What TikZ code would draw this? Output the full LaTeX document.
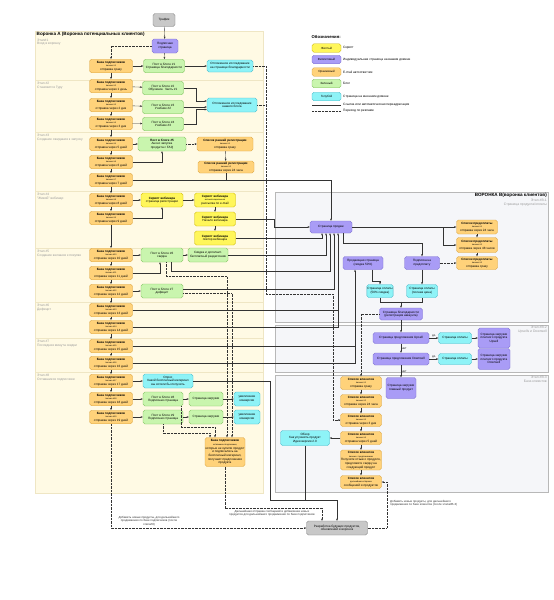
\documentclass[tikz,border=0pt]{standalone}
\usepackage{fontspec}
\setmainfont{Liberation Sans}
\usetikzlibrary{arrows.meta}
\definecolor{orgF}{HTML}{FFD27A}
\definecolor{orgD}{HTML}{D9A441}
\definecolor{purF}{HTML}{A99CF6}
\definecolor{purD}{HTML}{7A6DD0}
\definecolor{grnF}{HTML}{C9F5AE}
\definecolor{grnD}{HTML}{7DBF5A}
\definecolor{cyaF}{HTML}{8EF3F7}
\definecolor{cyaD}{HTML}{45B8C8}
\definecolor{yelF}{HTML}{FFF65A}
\definecolor{yelD}{HTML}{C8B400}
\definecolor{gryF}{HTML}{C8C8C8}
\definecolor{gryD}{HTML}{7F7F7F}
\definecolor{panA}{HTML}{FFFAE4}
\definecolor{panL}{HTML}{EFE6C4}
\definecolor{panB}{HTML}{F5F6F9}
\definecolor{panBD}{HTML}{B8B8B8}
\definecolor{lnC}{HTML}{333333}
\definecolor{stC}{HTML}{9A9A9A}
\newcommand{\fA}{\fontsize{3.1}{3.6}\selectfont}
\newcommand{\fS}{\fontsize{2.1}{2.5}\selectfont}
\newcommand{\bzp}[2]{\textbf{База подписчиков}\\[0.2pt]\fS письмо \##1\\#2}
\newcommand{\spk}[2]{\textbf{Список клиентов}\\[0.2pt]\fS письмо \##1\\#2}
\newcommand{\spp}[2]{\textbf{Список предоплаты}\\[0.2pt]\fS письмо \##1\\#2}
\begin{document}
\begin{tikzpicture}[x=1pt,y=-1pt,
  base/.style={rounded corners=1.8pt, line width=0.35pt, align=center, inner sep=0.4pt, font=\fA, text=black},
  org/.style={base, fill=orgF, draw=orgD, minimum width=43pt, minimum height=13.5pt},
  pur/.style={base, fill=purF, draw=purD},
  grn/.style={base, fill=grnF, draw=grnD, minimum width=41pt, minimum height=13.5pt},
  cya/.style={base, fill=cyaF, draw=cyaD},
  yel/.style={base, fill=yelF, draw=yelD, minimum width=42pt, minimum height=14pt},
  gry/.style={base, fill=gryF, draw=gryD},
  ln/.style={line width=0.35pt, draw=lnC},
  ar/.style={ln, -{Stealth[length=2.2pt,width=1.8pt]}},
  dt/.style={ln, dash pattern=on 0.7pt off 0.7pt},
  ard/.style={dt, -{Stealth[length=2.2pt,width=1.8pt]}},
  stl/.style={anchor=north west, align=left, font=\fontsize{3.3}{3.9}\selectfont, text=stC, inner sep=0pt},
  str/.style={anchor=north east, align=right, font=\fontsize{3.4}{4}\selectfont, text=stC, inner sep=0pt},
  lbl/.style={font=\fontsize{2.4}{2.8}\selectfont, inner sep=0.6pt},
  note/.style={font=\fontsize{2.9}{3.4}\selectfont, align=center, inner sep=0pt, text=black!80},
  lg/.style={anchor=west, font=\fontsize{3.2}{3.8}\selectfont, inner sep=0pt},
  lgb/.style={base, minimum width=29pt, minimum height=8.5pt, font=\fontsize{3}{3.5}\selectfont},
]
\fill[white] (0,0) rectangle (554,600);
\useasboundingbox (0,0) rectangle (554,600);

% ---------- panels ----------
\foreach \a/\b in {31/80,80/132,132/191,191/248,248/302,302/338,338/372,372/493}
  \draw[fill=panA, draw=panL, line width=0.3pt] (35,\a) rectangle (263,\b);
\draw[fill=panB, draw=panBD, line width=0.35pt] (275,192) rectangle (548,322);
\draw[fill=panB, draw=panBD, line width=0.35pt] (275,325) rectangle (548,372);
\draw[fill=panB, draw=panBD, line width=0.35pt] (275,375) rectangle (548,492);

\node[anchor=south west, inner sep=0pt, font=\bfseries\fontsize{4.6}{5.3}\selectfont] (tA) at (36.5,37) {Воронка А (Воронка потенциальных клиентов)};
\node[stl] (s1) at (37,38.5) {Этап\#1\\Вход в воронку};
\node[stl] (s2) at (37,82) {Этап \#2\\Становится Гуру};
\node[stl] (s3) at (37,134) {Этап \#3\\Создание ожидания к запуску};
\node[stl] (s4) at (37,193) {Этап \#4\\"Живой" вебинар};
\node[stl] (s5) at (37,250) {Этап \#5\\Создание желания к покупке};
\node[stl] (s6) at (37,304) {Этап \#6\\Дефицит};
\node[stl] (s7) at (37,340) {Этап \#7\\Последняя минута скидки};
\node[stl] (s8) at (37,374) {Этап \#8\\Оставшиеся подписчики};

\node[anchor=north east, inner sep=0pt, font=\bfseries\fontsize{4.6}{5.4}\selectfont] (tB) at (547,193) {ВОРОНКА B(воронка клиентов)};
\node[str] (b1) at (547,198.5) {Этап \#B-1\\Страница продукта/оплаты};
\node[str] (b2) at (547,326) {Этап \#B-2\\Upsells и Downsell};
\node[str] (b3) at (547,375.5) {Этап \#B-3\\База клиентов};

% ---------- legend ----------
\node[anchor=west, inner sep=0pt, font=\bfseries\fontsize{4.2}{5}\selectfont] (lt) at (311.5,37) {Обозначения:};
\node[lgb, fill=yelF, draw=yelD] (l1) at (326.5,48) {Желтый};
\node[lg] (l1t) at (343,48) {Скрипт};
\node[lgb, fill=purF, draw=purD] (l2) at (326.5,59.5) {Фиолетовый};
\node[lg] (l2t) at (343,59.5) {Индивидуальная страница на вашем домене};
\node[lgb, fill=orgF, draw=orgD] (l3) at (326.5,72) {Оранжевый};
\node[lg] (l3t) at (343,72) {E-mail автоответчик};
\node[lgb, fill=grnF, draw=grnD] (l4) at (326.5,83.5) {Зеленый};
\node[lg] (l4t) at (343,83.5) {Блог};
\node[lgb, fill=cyaF, draw=cyaD] (l5) at (326.5,96.5) {Голубой};
\node[lg] (l5t) at (343,96.5) {Страница на внешнем домене};
\coordinate (la1) at (312,104.7); \coordinate (la2) at (341,104.7);
\coordinate (lb1) at (312,111); \coordinate (lb2) at (341,111);
\draw[ln] (la1) -- (la2);
\draw[dt] (lb1) -- (lb2);
\node[lg] (l6t) at (343,104.7) {Ссылка или автоматическая переадресация};
\node[lg] (l7t) at (343,111) {Переход по рекламе};

% ---------- funnel A nodes ----------
\node[gry, minimum width=22pt, minimum height=13pt] (traf) at (164,20) {Трафик};
\node[pur, minimum width=26pt, minimum height=14pt] (sub) at (165,46) {Подписная\\страница};

\node[org] (o1) at (111,66) {\bzp{1}{отправка сразу}};
\node[org] (o2) at (111,86) {\bzp{2}{отправка через 1 день}};
\node[org] (o3) at (111,105) {\bzp{3}{отправка через 2 дня}};
\node[org] (o4) at (111,123) {\bzp{4}{отправка через 3 дня}};
\node[org] (o5) at (111,144) {\bzp{5}{отправка через 5 дней}};
\node[org] (o6) at (111,162) {\bzp{6}{отправка через 6 дней}};
\node[org] (o7) at (111,180) {\bzp{7}{отправка через 7 дней}};
\node[org] (o8) at (111,200) {\bzp{8}{отправка через 8 дней}};
\node[org] (o9) at (111,218) {\bzp{9}{отправка через 9 дней}};
\node[org] (o10) at (111,255) {\bzp{10}{отправка через 10 дней}};
\node[org] (o11) at (111,273) {\bzp{11}{отправка через 11 дней}};
\node[org] (o12) at (111,291) {\bzp{12}{отправка через 12 дней}};
\node[org] (o13) at (111,310) {\bzp{13}{отправка через 13 дней}};
\node[org] (o14) at (111,327) {\bzp{14}{отправка через 14 дней}};
\node[org] (o15) at (111,346) {\bzp{15}{отправка через 15 дней}};
\node[org] (o16) at (111,363) {\bzp{16}{отправка через 16 дней}};
\node[org] (o17) at (111,381) {\bzp{17}{отправка через 17 дней}};
\node[org] (o18) at (111,399) {\bzp{18}{отправка через 18 дней}};
\node[org] (o19) at (111,417) {\bzp{19}{отправка через 19 дней}};

\node[grn] (g1) at (164,66) {Пост в блоге \#1\\Страница благодарности};
\node[cya, minimum width=46pt, minimum height=12pt] (c1) at (230,66) {Отложенное исследование\\на странице благодарности};
\node[grn] (g2) at (163,88) {Пост в блоге \#2\\Обучение. Часть \#1};
\node[grn] (g3) at (163,107) {Пост в блоге \#3\\Учебник \#2};
\node[grn] (g4) at (163,124) {Пост в блоге \#4\\Учебник \#3};
\node[cya, minimum width=50pt, minimum height=14pt] (c2) at (232,105) {Отложенное исследование\\нашего блога};

\node[grn, minimum width=48pt, minimum height=14pt] (g5) at (162,144) {\textbf{Пост в блоге \#5}\\Анонс запуска\\продукта с FAQ};
\node[org, minimum width=56pt, minimum height=14pt] (r1) at (225,144) {\textbf{Список ранней регистрации}\\[0.2pt]\fS письмо \#1\\отправка сразу};
\node[org, minimum width=56pt, minimum height=12pt] (r2) at (226,167) {\textbf{Список ранней регистрации}\\[0.2pt]\fS письмо \#2\\отправка через 24 часа};

\node[yel] (y1) at (162,200) {\textbf{Скрипт вебинара}\\страница регистрации};
\node[yel, minimum width=41pt] (y2) at (215,200) {\textbf{Скрипт вебинара}\\\fS автоматизированная\\рассылка по e-mail};
\node[yel, minimum width=41pt] (y3) at (215,219) {\textbf{Скрипт вебинара}\\Начало вебинара};
\node[yel, minimum width=41pt] (y4) at (215,238) {\textbf{Скрипт вебинара}\\повтор вебинара};

\node[grn, minimum width=42pt, minimum height=14pt] (g6) at (162,255) {Пост в блоге \#6\\скидка};
\node[grn, minimum width=40pt, minimum height=14pt] (g7) at (208,255) {Скидка и дополнит.\\бесплатный раздаточник};
\node[grn, minimum width=42pt, minimum height=14pt] (g8) at (162,291) {Пост в блоге \#7\\дефицит};

\node[cya, minimum width=50pt, minimum height=14pt] (q1) at (168,381) {Опрос\\Какой бесплатный материал\\вы хотели бы получить};
\node[grn, minimum width=40pt, minimum height=14pt] (g9) at (163,399) {Пост в блоге \#8\\Подписная страница};
\node[grn, minimum width=34pt, minimum height=14pt] (g10) at (206,399) {Страница загрузки};
\node[cya, minimum width=26pt, minimum height=14pt] (c3) at (247,399) {увеличение\\конверсии};
\node[grn, minimum width=40pt, minimum height=14pt] (g11) at (163,417) {Пост в блоге \#9\\Подписная страница};
\node[grn, minimum width=34pt, minimum height=14pt] (g12) at (206,417) {Страница загрузки};
\node[cya, minimum width=26pt, minimum height=14pt] (c4) at (247,417) {увеличение\\конверсии};
\node[org, minimum width=40pt, minimum height=29pt] (tb) at (225,452) {\textbf{База подписчиков}\\[0.4pt]\fS оставшиеся подписчики,\\которые не купили продукт\\и подписались на\\бесплатный материал,\\получают предложения\\продукта};

% ---------- funnel B nodes ----------
\node[pur, minimum width=42pt, minimum height=12pt] (sp) at (331,227) {Страница продаж};
\node[org, minimum width=41pt, minimum height=14pt] (pl1) at (477,227) {\spp{1}{отправка через 24 часа}};
\node[org, minimum width=41pt, minimum height=15pt] (pl2) at (477,245) {\spp{2}{отправка через 48 часов}};
\node[org, minimum width=41pt, minimum height=13pt] (pl3) at (477,263) {\spp{3}{отправка сразу}};
\node[pur, minimum width=40pt, minimum height=13pt] (ps) at (363,263) {Продающая страница\\(скидка 50\%)};
\node[pur, minimum width=35pt, minimum height=13pt] (pp) at (422,263) {Подписка на\\предоплату};
\node[cya, minimum width=26pt, minimum height=13pt] (pay1) at (380,291) {Страница оплаты\\(50\% скидка)};
\node[cya, minimum width=31pt, minimum height=13pt] (pay2) at (422,291) {Страница оплаты\\(полная цена)};
\node[pur, minimum width=43pt, minimum height=12pt] (ty) at (401,314) {Страница благодарности\\(регистрация аккаунта)};
\node[pur, minimum width=56pt, minimum height=11pt] (ups) at (401,338) {Страница предложения Upsell};
\node[cya, minimum width=33pt, minimum height=11pt] (upay) at (455,338) {Страница оплаты};
\node[pur, minimum width=32pt, minimum height=20pt] (udl) at (494,338) {Страница загрузки\\платного продукта\\Upsell};
\node[pur, minimum width=56pt, minimum height=12pt] (dns) at (401,359) {Страница предложения Downsell};
\node[cya, minimum width=33pt, minimum height=11pt] (dpay) at (455,359) {Страница оплаты};
\node[pur, minimum width=32pt, minimum height=21pt] (ddl) at (494,359) {Страница загрузки\\платного продукта\\Downsell};
\node[pur, minimum width=30pt, minimum height=21pt] (mdl) at (401,388) {Страница загрузки\\главный продукт};

\node[org, minimum width=41pt, minimum height=13pt] (cl1) at (361,383) {\spk{1}{отправка сразу}};
\node[org, minimum width=41pt, minimum height=13pt] (cl2) at (361,401) {\spk{2}{отправка через 24 часа}};
\node[org, minimum width=41pt, minimum height=13pt] (cl3) at (361,420) {\spk{3}{отправка через 3 дня}};
\node[org, minimum width=41pt, minimum height=13pt] (cl4) at (361,438) {\spk{4}{отправка через 5 дней}};
\node[org, minimum width=41pt, minimum height=20pt] (cl5) at (361,460) {\textbf{Список клиентов}\\[0.2pt]\fS письмо с предложением\\Получите отзыв о продукте,\\предложите скидку на\\следующий продукт};
\node[org, minimum width=41pt, minimum height=13pt] (cl6) at (361,482) {\textbf{Список клиентов}\\[0.2pt]\fS дальнейшая отправка\\сообщений и продуктов};
\node[cya, minimum width=49pt, minimum height=15pt] (rev) at (305,438) {Обзор\\Как улучшить продукт\\Идеи версии 2.0};
\node[gry, minimum width=61pt, minimum height=14pt] (dev) at (337,528) {Разработка будущих продуктов,\\обновлений и воронок};

% ---------- notes ----------
\node[note] (n1) at (149,521) {Добавить новые продукты, для дальнейшего\\продвижения по базе подписчиков (после\\этапа\#8)};
\node[note] (n2) at (272,513) {Дальнейшая отправка сообщений и добавление новых\\продуктов для дальнейшего продвижения по базе подписчиков};
\node[note, anchor=west, align=left] (n3) at (390,503.5) {Добавить новые продукты, для дальнейшего\\продвижения по базе клиентов (после этапа\#B-3)};

% ---------- connectors A ----------
\draw[ar] (traf) -- (sub);
\draw[ard] (sub.west) -| (o1.north);
\draw[ar] (sub) -- (g1);
\draw[ar] (o1) -- (g1);
\draw[ar] (g1) -- (c1);
\foreach \a/\b in {o1/o2,o2/o3,o3/o4,o4/o5,o5/o6,o6/o7,o7/o8,o8/o9,o9/o10,o10/o11,o11/o12,o12/o13,o13/o14,o14/o15,o15/o16,o16/o17,o17/o18,o18/o19}
  \draw[ar] (\a) -- (\b);
\draw[ard] (c1.east) -- (266,66) -- (266,294) -- (333,294) |- (cl3.west);
\draw[dt] (c2.east) -- (266,105);
\draw[ar] (o2) -- (g2);
\draw[ar] (o3) -- (g3);
\draw[ar] (o4) -- (g4);
\draw[ar] (g2.east) -- (196,88) |- ([yshift=4pt]c2.west);
\draw[ar] (g3.east) -- (g3.east -| c2.west);
\draw[ar] (g4.east) -- (196,124) |- ([yshift=-4.5pt]c2.west);

\draw[ar] (o5) -- (g5);
\draw[ard] (g5) -- (r1);
\draw[ar] (r1) -- (r2);
\draw[ar] (o6.east) -| (g5.south);
\draw[ar] (o7.east) -| (sp.north);
\draw[ln] (r2.south) -- (r2.south |- o7.east);

\draw[ar] (o8) -- (y1);
\draw[ar] (y1) -- (y2);
\draw[ar] (o9.east) -| (y1.south);
\draw[ar] (y2) -- (y3);
\draw[ar] (y3) -- (y4);
\draw[ar] (y3.east) -- (274,219) |- (sp.west);
\draw[ar] (y4.east) -| ([xshift=-9pt]sp.south);

\draw[ar] (o10) -- (g6);
\draw[ar] (g6) -- (g7);
\draw[ar] (o11.east) -| ([xshift=-2pt]g6.south);
\draw[ar] (g7.east) -| ([xshift=-5pt]sp.south);
\draw[ar] ([xshift=9pt]g6.south) -- ++(0,9) -| ([xshift=-1pt]sp.south);
\draw[ard] ([xshift=4pt]g6.south) -- ++(0,14) -| ([xshift=2pt]tb.north);

\draw[ar] (o12) -- (g8);
\draw[ar] ([yshift=1.5pt]g8.east) -| ([xshift=3pt]sp.south);
\draw[ard] ([yshift=-2.5pt]g8.east) -| ([xshift=7pt]tb.north);

\draw[ln] (o13.east) -- (338,310);
\draw[ar] (o14.east) -| ([xshift=7pt]sp.south);
\draw[ln] (o15.east) -- (355,346);
\draw[ar] (o16.east) -| ([xshift=-8pt]ps.south);

\draw[ar] (o17) -- (q1);
\draw[ar] (q1.east) -- (270,381) -- (270,500) -| (dev.north);
\draw[ln] (rev.south) -- (rev.south |- 0,500);

\draw[ar] (o18) -- (g9);
\draw[ar] (g9) -- (g10);
\draw[ar] (g10) -- (c3);
\draw[ar] (o19) -- (g11);
\draw[ar] (g11) -- (g12);
\draw[ar] (g12) -- (c4);
\draw[ard] ([xshift=18pt]g9.south) -- ++(0,21) -| ([xshift=-10pt]tb.north);
\draw[ard] (g11.south) -- ++(0,9) -| ([xshift=-15pt]tb.north);
\draw[ard] (tb.south) -- ++(0,41) -| ([xshift=-15pt]dev.north);
\draw[ard] (o19.south) |- (dev.west);
\draw[ard] (dev.east) -- (387,528) |- (cl6.east);

% ---------- connectors B ----------
\draw[ar] (sp.east) -- (pl1.west);
\draw[ar] (443,227) |- (pl2.west);
\draw[ard] (pp.east) -- (pl3.west);
\draw[ar] (pl1) -- (pl2);
\draw[ar] (pl2) -- (pl3);
\draw[ar] ([xshift=12pt]sp.south) -- ++(0,10) -| (pp.north);
\draw[ar] ([xshift=9pt]ps.south) -- ++(0,11) -| (pay1.north);
\draw[ar] (pp) -- (pay2);
\draw[ln] (pay1.south) -- ++(0,4) -| (pay2.south);
\draw[ar] (401,301.5) -- (ty.north);
\draw[ar] (ty) -- (ups);
\draw[ar] (ups) -- (upay) node[midway, above, lbl] {ДА};
\draw[ar] (upay) -- (udl);
\draw[ar] (ups) -- (dns) node[midway, right, lbl] {НЕТ};
\draw[ar] (dns) -- (dpay) node[midway, above, lbl] {ДА};
\draw[ar] (dpay) -- (ddl);
\draw[ar] (dns) -- (mdl) node[midway, right, lbl] {НЕТ};
\draw[ard] (ty.west) -| (cl1.north);
\draw[ar] (cl1) -- (cl2);
\draw[ar] (cl2) -- (cl3);
\draw[ar] (cl3) -- (cl4);
\draw[ar] (cl4) -- (cl5);
\draw[ar] (cl5) -- (cl6);
\draw[ar] (cl4.west) -- (rev.east);
\end{tikzpicture}
\end{document}
